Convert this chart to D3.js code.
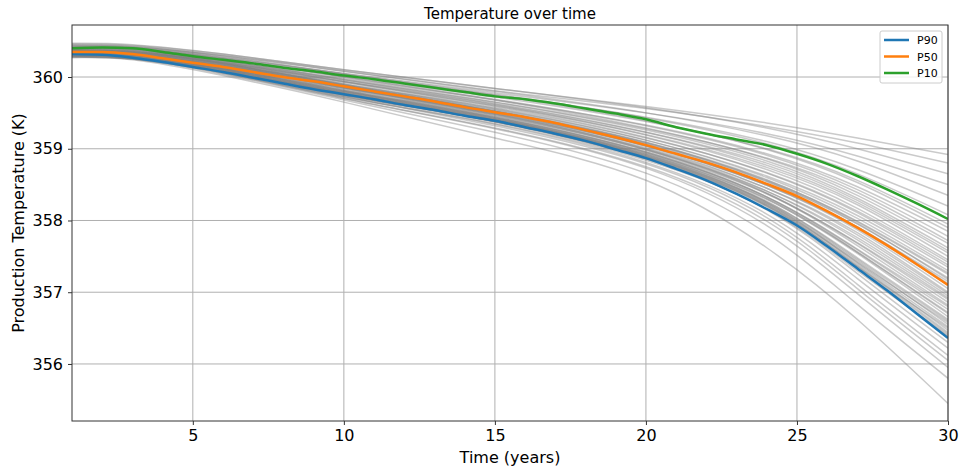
<!DOCTYPE html>
<html>
<head>
<meta charset="utf-8">
<script src="https://cdn.jsdelivr.net/npm/d3@7"></script>
<style>
  body { margin: 0; background: #fff; }
  svg { font-family: "DejaVu Sans", sans-serif; }
</style>
</head>
<body>
<div id="chart"></div>
<script>
// percentile curves, one value per year 1..30
const years = d3.range(1, 31);
const p90 = [360.32, 360.31, 360.27, 360.21, 360.14, 360.07, 359.99, 359.91, 359.83, 359.76,
             359.69, 359.61, 359.54, 359.46, 359.39, 359.30, 359.21, 359.11, 358.99, 358.87,
             358.72, 358.56, 358.37, 358.16, 357.93, 357.64, 357.33, 357.02, 356.69, 356.36];
const p50 = [360.35, 360.35, 360.32, 360.26, 360.20, 360.14, 360.07, 360.00, 359.94, 359.87,
             359.80, 359.73, 359.66, 359.58, 359.51, 359.44, 359.36, 359.26, 359.16, 359.05,
             358.93, 358.81, 358.67, 358.51, 358.34, 358.13, 357.90, 357.65, 357.38, 357.10];
const p10 = [360.40, 360.41, 360.40, 360.35, 360.29, 360.24, 360.19, 360.13, 360.08, 360.02,
             359.97, 359.91, 359.85, 359.79, 359.73, 359.69, 359.63, 359.56, 359.49, 359.41,
             359.30, 359.21, 359.13, 359.05, 358.93, 358.79, 358.62, 358.43, 358.23, 358.02];

// individual realizations, sampled at these years
const grayYears = [1, 3, 6, 10, 15, 20, 24, 27, 30];
const grayRuns = [
  [360.46, 360.44, 360.32, 360.10, 359.84, 359.59, 359.36, 359.15, 358.92],
  [360.44, 360.42, 360.30, 360.08, 359.81, 359.56, 359.31, 359.08, 358.80],
  [360.47, 360.45, 360.32, 360.10, 359.84, 359.57, 359.29, 359.00, 358.65],
  [360.42, 360.40, 360.27, 360.05, 359.78, 359.50, 359.21, 358.90, 358.50],
  [360.45, 360.43, 360.30, 360.08, 359.80, 359.50, 359.18, 358.83, 358.35],
  [360.41, 360.39, 360.26, 360.03, 359.75, 359.44, 359.10, 358.71, 358.20],
  [360.43, 360.41, 360.28, 360.05, 359.76, 359.43, 359.07, 358.65, 358.08],
  [360.40, 360.38, 360.25, 360.01, 359.72, 359.38, 359.00, 358.56, 357.95],
  [360.44, 360.42, 360.29, 360.04, 359.74, 359.39, 358.99, 358.53, 357.90],
  [360.38, 360.36, 360.23, 359.98, 359.68, 359.33, 358.93, 358.47, 357.85],
  [360.41, 360.39, 360.25, 360.00, 359.69, 359.32, 358.91, 358.43, 357.78],
  [360.37, 360.35, 360.21, 359.96, 359.65, 359.28, 358.87, 358.39, 357.72],
  [360.42, 360.40, 360.26, 360.00, 359.68, 359.29, 358.86, 358.35, 357.68],
  [360.39, 360.37, 360.23, 359.97, 359.65, 359.26, 358.83, 358.31, 357.62],
  [360.36, 360.34, 360.20, 359.94, 359.62, 359.23, 358.80, 358.28, 357.58],
  [360.40, 360.38, 360.24, 359.96, 359.63, 359.23, 358.77, 358.25, 357.55],
  [360.37, 360.35, 360.21, 359.93, 359.60, 359.20, 358.74, 358.22, 357.50],
  [360.39, 360.37, 360.23, 359.94, 359.61, 359.19, 358.71, 358.17, 357.45],
  [360.35, 360.33, 360.19, 359.90, 359.57, 359.15, 358.67, 358.13, 357.42],
  [360.38, 360.36, 360.22, 359.93, 359.59, 359.16, 358.66, 358.11, 357.38],
  [360.34, 360.32, 360.18, 359.89, 359.55, 359.12, 358.62, 358.07, 357.35],
  [360.37, 360.35, 360.20, 359.91, 359.56, 359.12, 358.60, 358.03, 357.30],
  [360.33, 360.31, 360.16, 359.87, 359.52, 359.08, 358.56, 357.99, 357.27],
  [360.36, 360.34, 360.19, 359.89, 359.53, 359.09, 358.57, 357.98, 357.25],
  [360.35, 360.33, 360.18, 359.88, 359.52, 359.07, 358.54, 357.95, 357.20],
  [360.38, 360.36, 360.21, 359.90, 359.54, 359.09, 358.55, 357.96, 357.18],
  [360.33, 360.31, 360.16, 359.85, 359.49, 359.04, 358.50, 357.91, 357.15],
  [360.36, 360.34, 360.19, 359.88, 359.52, 359.06, 358.51, 357.91, 357.12],
  [360.34, 360.32, 360.17, 359.86, 359.50, 359.04, 358.49, 357.89, 357.10],
  [360.37, 360.35, 360.19, 359.88, 359.52, 359.05, 358.49, 357.87, 357.05],
  [360.33, 360.31, 360.15, 359.84, 359.48, 359.01, 358.45, 357.83, 357.00],
  [360.36, 360.34, 360.18, 359.86, 359.50, 359.03, 358.45, 357.80, 356.98],
  [360.32, 360.30, 360.14, 359.82, 359.46, 358.99, 358.41, 357.76, 356.95],
  [360.35, 360.32, 360.16, 359.85, 359.48, 359.00, 358.41, 357.73, 356.92],
  [360.31, 360.28, 360.12, 359.81, 359.44, 358.96, 358.37, 357.69, 356.90],
  [360.34, 360.31, 360.15, 359.83, 359.46, 358.98, 358.38, 357.68, 356.86],
  [360.36, 360.33, 360.17, 359.85, 359.48, 358.99, 358.38, 357.65, 356.82],
  [360.31, 360.28, 360.12, 359.80, 359.43, 358.94, 358.33, 357.60, 356.80],
  [360.33, 360.30, 360.13, 359.81, 359.44, 358.95, 358.33, 357.59, 356.76],
  [360.30, 360.27, 360.10, 359.78, 359.41, 358.92, 358.30, 357.56, 356.72],
  [360.34, 360.31, 360.14, 359.81, 359.44, 358.95, 358.32, 357.56, 356.70],
  [360.32, 360.29, 360.12, 359.79, 359.42, 358.93, 358.30, 357.54, 356.66],
  [360.30, 360.27, 360.10, 359.77, 359.40, 358.90, 358.26, 357.48, 356.62],
  [360.33, 360.30, 360.12, 359.79, 359.42, 358.92, 358.27, 357.46, 356.60],
  [360.29, 360.26, 360.08, 359.75, 359.38, 358.88, 358.23, 357.42, 356.58],
  [360.31, 360.28, 360.10, 359.77, 359.40, 358.90, 358.25, 357.44, 356.55],
  [360.34, 360.31, 360.13, 359.79, 359.42, 358.91, 358.25, 357.41, 356.52],
  [360.29, 360.26, 360.08, 359.74, 359.37, 358.86, 358.20, 357.36, 356.50],
  [360.32, 360.29, 360.11, 359.77, 359.40, 358.89, 358.23, 357.39, 356.47],
  [360.30, 360.27, 360.09, 359.75, 359.38, 358.87, 358.21, 357.37, 356.44],
  [360.33, 360.30, 360.11, 359.77, 359.40, 358.89, 358.21, 357.35, 356.42],
  [360.28, 360.25, 360.06, 359.72, 359.35, 358.84, 358.16, 357.30, 356.40],
  [360.31, 360.28, 360.09, 359.75, 359.38, 358.87, 358.19, 357.33, 356.38],
  [360.32, 360.29, 360.10, 359.76, 359.38, 358.86, 358.15, 357.26, 356.30],
  [360.29, 360.26, 360.07, 359.72, 359.34, 358.81, 358.09, 357.19, 356.22],
  [360.30, 360.27, 360.08, 359.73, 359.32, 358.79, 358.04, 357.11, 356.12],
  [360.28, 360.25, 360.05, 359.70, 359.29, 358.75, 357.99, 357.05, 356.05],
  [360.29, 360.26, 360.06, 359.70, 359.28, 358.73, 357.93, 356.98, 355.95],
  [360.28, 360.25, 360.04, 359.68, 359.23, 358.66, 357.82, 356.83, 355.80],
  [360.27, 360.24, 360.02, 359.65, 359.15, 358.56, 357.62, 356.62, 355.45]
];

const xTicks = [5, 10, 15, 20, 25, 30];
const yTicks = [356, 357, 358, 359, 360];
const legendNames = ['P90', 'P50', 'P10'];
const legendColors = ['#1f77b4', '#ff7f0e', '#2ca02c'];

const width = 961, height = 473;
const margin = {top: 25, right: 13, bottom: 52, left: 72};
const plotW = width - margin.left - margin.right;
const plotH = height - margin.top - margin.bottom;

const svg = d3.select('#chart')
              .append('svg')
              .attr('width', width)
              .attr('height', height);

const x = d3.scaleLinear().domain([1, 30]).range([0, plotW]);
const y = d3.scaleLinear().domain([355.205, 360.725]).range([plotH, 0]);

const g = svg.append('g')
             .attr('transform', 'translate(' + margin.left + ',' + margin.top + ')');

svg.append('defs').append('clipPath')
   .attr('id', 'clip')
   .append('rect')
   .attr('width', plotW)
   .attr('height', plotH);

// grid
g.append('g')
 .selectAll('line')
 .data(xTicks)
 .enter()
 .append('line')
 .attr('x1', d => x(d)).attr('x2', d => x(d))
 .attr('y1', 0).attr('y2', plotH)
 .attr('stroke', '#b0b0b0')
 .attr('stroke-width', 1);

g.append('g')
 .selectAll('line')
 .data(yTicks)
 .enter()
 .append('line')
 .attr('x1', 0).attr('x2', plotW)
 .attr('y1', d => y(d)).attr('y2', d => y(d))
 .attr('stroke', '#b0b0b0')
 .attr('stroke-width', 1);

const plot = g.append('g').attr('clip-path', 'url(#clip)');

const grayLine = d3.line()
                   .x((d, i) => x(grayYears[i]))
                   .y(d => y(d))
                   .curve(d3.curveNatural);

plot.selectAll('.run')
    .data(grayRuns)
    .enter()
    .append('path')
    .attr('class', 'run')
    .attr('d', grayLine)
    .attr('fill', 'none')
    .attr('stroke', 'gray')
    .attr('stroke-opacity', 0.42)
    .attr('stroke-width', 1.5);

const pLine = d3.line()
                .x((d, i) => x(years[i]))
                .y(d => y(d))
                .curve(d3.curveMonotoneX);

[p90, p50, p10].forEach((series, i) => {
    plot.append('path')
        .attr('d', pLine(series))
        .attr('fill', 'none')
        .attr('stroke', legendColors[i])
        .attr('stroke-width', 2.5);
});

// axes
const xAxis = d3.axisBottom(x).tickValues(xTicks).tickSize(4).tickPadding(5)
                .tickFormat(d3.format('d'));
const yAxis = d3.axisLeft(y).tickValues(yTicks).tickSize(4).tickPadding(5)
                .tickFormat(d3.format('d'));

const gx = g.append('g')
            .attr('transform', 'translate(0,' + plotH + ')')
            .call(xAxis);
const gy = g.append('g').call(yAxis);

[gx, gy].forEach(ax => {
    ax.select('.domain').remove();
    ax.selectAll('.tick line').attr('stroke', '#333');
    ax.selectAll('.tick text')
      .attr('fill', '#000')
      .style('font-size', '16px')
      .style('font-family', '"DejaVu Sans", sans-serif');
});

// frame
g.append('rect')
 .attr('width', plotW)
 .attr('height', plotH)
 .attr('fill', 'none')
 .attr('stroke', '#333')
 .attr('stroke-width', 1);

// labels
svg.append('text')
   .text('Temperature over time')
   .attr('x', margin.left + plotW / 2)
   .attr('y', 19)
   .attr('text-anchor', 'middle')
   .style('font-size', '15px');

svg.append('text')
   .text('Time (years)')
   .attr('x', margin.left + plotW / 2)
   .attr('y', 463)
   .attr('text-anchor', 'middle')
   .style('font-size', '16px');

svg.append('text')
   .text('Production Temperature (K)')
   .attr('transform', 'translate(24,' + (margin.top + plotH / 2) + ') rotate(-90)')
   .attr('text-anchor', 'middle')
   .style('font-size', '16px');

// legend
const legend = svg.append('g').attr('transform', 'translate(880,31)');
legend.append('rect')
      .attr('width', 62)
      .attr('height', 52)
      .attr('rx', 2)
      .attr('fill', '#fff')
      .attr('fill-opacity', 0.8)
      .attr('stroke', '#ccc');

legendNames.forEach((name, i) => {
    const row = legend.append('g').attr('transform', 'translate(0,' + (9 + i * 16.5) + ')');
    row.append('line')
       .attr('x1', 4).attr('x2', 29)
       .attr('y1', 0).attr('y2', 0)
       .attr('stroke', legendColors[i])
       .attr('stroke-width', 2.5);
    row.append('text')
       .text(name)
       .attr('x', 37)
       .attr('y', 4)
       .style('font-size', '11px');
});
</script>
</body>
</html>
